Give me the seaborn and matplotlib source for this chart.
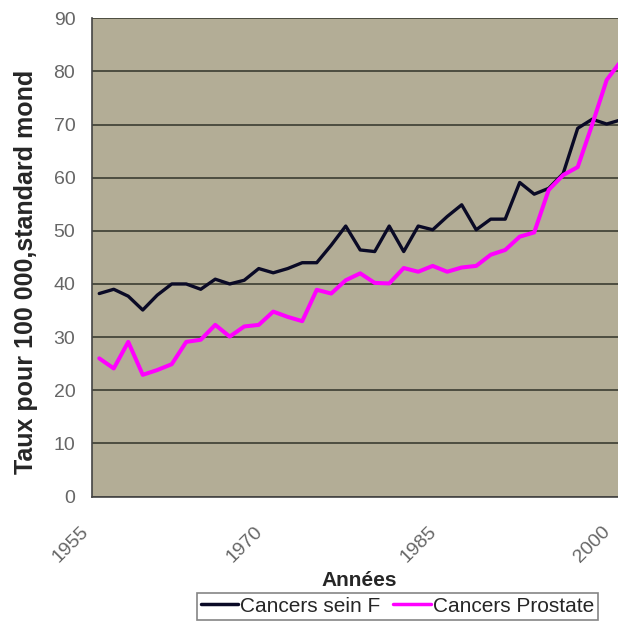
import numpy as np
import pandas as pd
import matplotlib
matplotlib.use('Agg')
import matplotlib.pyplot as plt
import seaborn as sns

# Values (one point per category, left to right)
sein_f = [38.2, 39.0, 37.7, 35.1, 37.9, 40.0, 40.0, 39.0, 40.9, 40.0,
          40.7, 42.9, 42.1, 42.9, 44.0, 44.0, 47.3, 50.9, 46.4, 46.1,
          50.9, 46.1, 50.9, 50.2, 52.7, 54.9, 50.2, 52.2, 52.2, 59.1,
          56.9, 58.0, 60.8, 69.3, 71.0, 70.1, 70.9]
prostate = [26.0, 24.1, 29.1, 22.9, 23.8, 24.9, 29.1, 29.5, 32.3, 30.1,
            32.0, 32.3, 34.8, 33.8, 33.0, 38.9, 38.2, 40.7, 42.0, 40.2,
            40.1, 43.0, 42.3, 43.4, 42.3, 43.1, 43.4, 45.5, 46.4, 48.9,
            49.7, 57.7, 60.5, 62.0, 70.0, 78.4, 82.0]
year_labels = ['1955', '1970', '1985', '2000']
series_names = ['Cancers sein F', 'Cancers Prostate']

df = pd.DataFrame({
    'point': list(range(len(sein_f))) * 2,
    'taux': sein_f + prostate,
    'serie': [series_names[0]] * len(sein_f) + [series_names[1]] * len(prostate),
})

sns.set_style('white')
plt.rcParams['font.family'] = ['Liberation Sans', 'DejaVu Sans']

fig = plt.figure(figsize=(6.18, 6.25), dpi=100)
ax = fig.add_axes([92 / 618, 1 - 496.5 / 625, 526 / 618, 478.2 / 625])
ax.set_facecolor('#B3AD96')

sns.lineplot(data=df, x='point', y='taux', hue='serie',
             palette={series_names[0]: '#0a0a26', series_names[1]: '#FF00FF'},
             linewidth=2.5, ax=ax, legend=True)
for line, lw in zip(ax.lines, [2.4, 2.9]):
    line.set_linewidth(lw)

ax.set_xlim(-0.5, 35.78)
ax.set_ylim(0, 90)
ax.set_yticks(range(0, 91, 10))
ax.yaxis.grid(True, color='#45453a', linewidth=1.3)
ax.set_axisbelow(True)

ticks = [-0.5 + 2 * k for k in range(19)]
labels = [''] * 19
for i, lab in zip([0, 6, 12, 18], year_labels):
    labels[i] = lab
ax.set_xticks(ticks)
ax.set_xticklabels(labels, rotation=45, ha='right')

ax.tick_params(axis='both', which='major', direction='out', length=5,
               width=1, color='#444444', labelcolor='#666666', labelsize=14)
ax.tick_params(axis='x', pad=14)
ax.tick_params(axis='y', pad=7)

for s in ['top', 'right']:
    ax.spines[s].set_visible(False)
for s in ['left', 'bottom']:
    ax.spines[s].set_color('#444444')
    ax.spines[s].set_linewidth(1.2)

ax.set_ylabel('Taux pour 100 000,standard mond', fontsize=18, fontweight='bold')
ax.yaxis.set_label_coords(-0.102, 0.47)
ax.set_xlabel('Années', fontsize=15, fontweight='bold')
ax.xaxis.set_label_coords(0.508, -0.156)

leg = ax.legend(loc='upper center', bbox_to_anchor=(0.643, 0.052),
                bbox_transform=fig.transFigure, ncol=2, frameon=True,
                fancybox=False, edgecolor='#666666', fontsize=15,
                handlelength=1.8, handletextpad=0.1, columnspacing=0.6,
                borderpad=0.2, borderaxespad=0)
leg.get_frame().set_linewidth(1.2)

fig.savefig('out.png', dpi=100)
